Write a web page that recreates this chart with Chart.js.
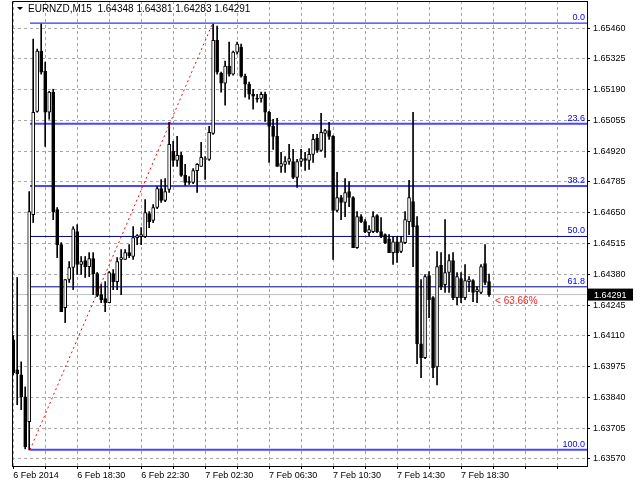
<!DOCTYPE html>
<html>
<head>
<meta charset="utf-8">
<script src="https://cdn.jsdelivr.net/npm/chart.js@4.4.1/dist/chart.umd.min.js"></script>
<style>
  html, body { margin: 0; padding: 0; background: #fff; }
  #wrap { width: 640px; height: 480px; }
</style>
</head>
<body>
<div id="wrap"><canvas id="chart" width="640" height="480"></canvas></div>
<script>
// EURNZD M15 bars, starting 6 Feb 2014 14:30
const opens = [
  1.64093,1.63961,1.63939,1.63842,1.63733,1.64642,1.65095,1.65359,1.65271,1.65091,
  1.65179,1.64664,1.64510,1.64234,1.64357,1.64410,1.64567,1.64423,1.64440,1.64414,
  1.64449,1.64383,1.64291,1.64273,1.64256,1.64383,1.64348,1.64445,1.64445,1.64475,
  1.64458,1.64541,1.64545,1.64545,1.64646,1.64616,1.64673,1.64756,1.64704,1.64752,
  1.64919,1.64880,1.64902,1.64814,1.64787,1.64783,1.64835,1.64853,1.64884,1.64884,
  1.64998,1.65407,1.65262,1.65218,1.65293,1.65258,1.65355,1.65377,1.65249,1.65214,
  1.65170,1.65152,1.65152,1.65170,1.65091,1.65029,1.64985,1.64853,1.64862,1.64875,
  1.64875,1.64805,1.64875,1.64888,1.64880,1.64906,1.64976,1.64924,1.64998,1.65011,
  1.64985,1.64660,1.64717,1.64695,1.64743,1.64717,1.64497,1.64633,1.64611,1.64563,
  1.64567,1.64638,1.64567,1.64554,1.64536,1.64475,1.64523,1.64480,1.64519,1.64611,
  1.64699,1.64594,1.64075,1.64014,1.64374,1.64278,1.63974,1.64419,1.64335,1.64388,
  1.64440,1.64278,1.64361,1.64278,1.64348,1.64352,1.64304,1.64300,1.64427,1.64348
];
const highs = [
  1.64111,1.64366,1.63996,1.63886,1.64743,1.65412,1.65368,1.65478,1.65311,1.65183,
  1.65192,1.64673,1.64519,1.64357,1.64436,1.64589,1.64598,1.64458,1.64458,1.64475,
  1.64475,1.64388,1.64335,1.64348,1.64392,1.64401,1.64453,1.64488,1.64488,1.64510,
  1.64589,1.64554,1.64585,1.64708,1.64655,1.64686,1.64765,1.64796,1.64800,1.65047,
  1.64963,1.64985,1.64915,1.64862,1.64809,1.64844,1.64866,1.64959,1.64897,1.65029,
  1.65478,1.65469,1.65267,1.65315,1.65399,1.65359,1.65399,1.65390,1.65258,1.65223,
  1.65192,1.65170,1.65179,1.65179,1.65095,1.65060,1.65064,1.64915,1.64897,1.64950,
  1.64928,1.64884,1.64928,1.64915,1.64932,1.64994,1.64994,1.65086,1.65016,1.65047,
  1.64989,1.64827,1.64726,1.64800,1.64787,1.64721,1.64655,1.64642,1.64620,1.64594,
  1.64655,1.64642,1.64629,1.64558,1.64554,1.64545,1.64545,1.64545,1.64655,1.64792,
  1.65091,1.64633,1.64357,1.64379,1.64392,1.64282,1.64480,1.64475,1.64620,1.64467,
  1.64475,1.64388,1.64388,1.64423,1.64370,1.64357,1.64326,1.64423,1.64510,1.64381
];
const lows = [
  1.63939,1.63808,1.63786,1.63614,1.63610,1.64607,1.65091,1.65258,1.64941,1.65060,
  1.64620,1.64453,1.64216,1.64168,1.64344,1.64313,1.64379,1.64379,1.64366,1.64370,
  1.64291,1.64282,1.64256,1.64216,1.64256,1.64313,1.64313,1.64291,1.64445,1.64453,
  1.64445,1.64510,1.64510,1.64541,1.64585,1.64607,1.64668,1.64695,1.64699,1.64739,
  1.64853,1.64853,1.64809,1.64770,1.64774,1.64778,1.64739,1.64853,1.64796,1.64880,
  1.64994,1.65258,1.65179,1.65122,1.65249,1.65254,1.65346,1.65245,1.65157,1.65148,
  1.65104,1.65135,1.65135,1.65051,1.64871,1.64928,1.64853,1.64827,1.64827,1.64862,
  1.64800,1.64761,1.64853,1.64836,1.64840,1.64871,1.64915,1.64919,1.64893,1.64972,
  1.64445,1.64655,1.64620,1.64633,1.64677,1.64497,1.64493,1.64607,1.64563,1.64550,
  1.64563,1.64563,1.64541,1.64514,1.64475,1.64423,1.64432,1.64475,1.64514,1.64554,
  1.64414,1.63988,1.63926,1.64010,1.64190,1.63926,1.63895,1.64313,1.64300,1.64300,
  1.64269,1.64247,1.64256,1.64269,1.64304,1.64260,1.64256,1.64295,1.64335,1.64283
];
const closes = [
  1.63948,1.63943,1.63842,1.63623,1.64655,1.65091,1.65359,1.65267,1.65091,1.65179,
  1.64655,1.64510,1.64216,1.64357,1.64410,1.64580,1.64423,1.64436,1.64414,1.64449,
  1.64383,1.64287,1.64269,1.64256,1.64388,1.64348,1.64436,1.64453,1.64475,1.64462,
  1.64541,1.64550,1.64554,1.64651,1.64611,1.64673,1.64756,1.64704,1.64743,1.64950,
  1.64880,1.64902,1.64814,1.64783,1.64783,1.64835,1.64862,1.64893,1.64888,1.65003,
  1.65407,1.65267,1.65218,1.65293,1.65258,1.65355,1.65390,1.65249,1.65214,1.65170,
  1.65161,1.65148,1.65170,1.65091,1.65029,1.64985,1.64853,1.64866,1.64875,1.64888,
  1.64805,1.64875,1.64888,1.64880,1.64906,1.64972,1.64924,1.65003,1.65011,1.64985,
  1.64660,1.64717,1.64695,1.64739,1.64717,1.64497,1.64633,1.64611,1.64567,1.64576,
  1.64633,1.64567,1.64545,1.64519,1.64475,1.64523,1.64475,1.64523,1.64620,1.64717,
  1.64589,1.64075,1.64014,1.64370,1.64269,1.63970,1.64414,1.64326,1.64388,1.64440,
  1.64278,1.64370,1.64278,1.64352,1.64357,1.64300,1.64313,1.64414,1.64344,1.64291
];

// time labels every 16 bars (grid every 8)
const timeLabels = {
  0: '6 Feb 2014', 16: '6 Feb 18:30', 32: '6 Feb 22:30', 48: '7 Feb 02:30',
  64: '7 Feb 06:30', 80: '7 Feb 10:30', 96: '7 Feb 14:30', 112: '7 Feb 18:30'
};
const priceTicks = [1.63570,1.63705,1.63840,1.63975,1.64110,1.64245,1.64380,1.64515,
                    1.64650,1.64785,1.64920,1.65055,1.65190,1.65325,1.65460];

// fibonacci retracement from bar 4 low to bar 50 high
const fibHigh = 1.65482;
const fibLow = 1.63610;
const fibStartBar = 4.2;
const fibEndBar = 49.9;
const fibNames = ['0.0', '23.6', '38.2', '50.0', '61.8', '100.0'];
const fibRatios = [0, 0.236, 0.382, 0.5, 0.618, 1];
const fibColors = ['#0000ff', '#4848ff', '#4848ff', '#00008b', '#00008b', '#4848ff'];
const fibWidths = [1, 2, 2, 1, 1, 2];

const title = 'EURNZD,M15  1.64348 1.64381 1.64283 1.64291';
const lastPrice = 1.64291;
const retraceText = '< 63.66%';

const X_MIN = -0.3, X_MAX = 143.5;
const FONT = 'Liberation Sans';

const fibLevel = r => fibHigh - (fibHigh - fibLow) * r;

const datasets = [];
// wicks
datasets.push({
  type: 'bar',
  data: lows.map((l, i) => ({ x: i, y: [l, highs[i]] })),
  backgroundColor: '#000',
  barThickness: 1,
  order: 1
});
// bodies
datasets.push({
  type: 'bar',
  data: opens.map((o, i) => ({ x: i, y: [o, closes[i]] })),
  backgroundColor: opens.map((o, i) => closes[i] >= o ? '#ffffff' : '#000000'),
  borderColor: '#000',
  borderWidth: 1,
  borderSkipped: false,
  barThickness: 3,
  order: 0
});
// current price line
datasets.push({
  type: 'line',
  data: [{ x: X_MIN, y: lastPrice }, { x: X_MAX, y: lastPrice }],
  borderColor: '#c0c0c0',
  borderWidth: 1,
  pointRadius: 0,
  order: 3
});
// fib levels
fibRatios.forEach((r, k) => {
  datasets.push({
    type: 'line',
    data: [{ x: fibStartBar, y: fibLevel(r) }, { x: X_MAX, y: fibLevel(r) }],
    borderColor: fibColors[k],
    borderWidth: fibWidths[k],
    pointRadius: 0,
    order: 2
  });
});
// fib trend line
datasets.push({
  type: 'line',
  data: [{ x: fibStartBar, y: fibLow }, { x: fibEndBar, y: fibHigh }],
  borderColor: '#ff0000',
  borderWidth: 1,
  borderDash: [2, 3],
  pointRadius: 0,
  order: -1
});

const overlay = {
  id: 'overlay',
  afterDraw(chart) {
    const { ctx, chartArea: a, scales: { x, y } } = chart;
    ctx.save();
    // frame left / top
    ctx.strokeStyle = '#000';
    ctx.lineWidth = 1;
    ctx.beginPath();
    ctx.moveTo(a.left + 0.5, a.bottom);
    ctx.lineTo(a.left + 0.5, a.top + 0.5);
    ctx.lineTo(a.right, a.top + 0.5);
    ctx.stroke();

    // fib labels
    ctx.font = '9px ' + FONT;
    ctx.textAlign = 'right';
    ctx.textBaseline = 'bottom';
    fibRatios.forEach((r, k) => {
      ctx.fillStyle = '#0000ff';
      ctx.fillText(fibNames[k], a.right - 2, y.getPixelForValue(fibLevel(r)) - 1);
    });

    // retracement percent
    ctx.fillStyle = '#ff2020';
    ctx.font = '10px ' + FONT;
    ctx.textAlign = 'left';
    ctx.textBaseline = 'middle';
    ctx.fillText(retraceText, x.getPixelForValue(120.5), y.getPixelForValue(lastPrice) + 7);

    // title
    ctx.fillStyle = '#000';
    ctx.beginPath();
    ctx.moveTo(17, 7); ctx.lineTo(23, 7); ctx.lineTo(20, 10); ctx.closePath();
    ctx.fill();
    ctx.font = '10px ' + FONT;
    ctx.textBaseline = 'middle';
    ctx.fillText(title, 28, 9);

    // price box
    const py = y.getPixelForValue(lastPrice);
    ctx.fillStyle = '#000';
    ctx.fillRect(a.right + 1, py - 6, 45, 12);
    ctx.fillStyle = '#fff';
    ctx.font = '9px ' + FONT;
    ctx.fillText(lastPrice.toFixed(5), a.right + 7, py + 0.5);
    ctx.restore();
  }
};

new Chart(document.getElementById('chart'), {
  data: { datasets: datasets },
  options: {
    responsive: false,
    animation: false,
    layout: { padding: { left: 12, top: 1, right: 0, bottom: 0 } },
    datasets: { bar: { grouped: false } },
    plugins: { legend: { display: false }, tooltip: { enabled: false } },
    scales: {
      x: {
        type: 'linear',
        offset: false,
        min: X_MIN,
        max: X_MAX,
        afterBuildTicks: s => { s.ticks = []; for (let i = 0; i <= 136; i += 8) s.ticks.push({ value: i }); },
        afterFit: s => { s.height = 14; s.paddingLeft = 0; s.paddingRight = 0; },
        ticks: {
          autoSkip: false,
          maxRotation: 0,
          align: 'start',
          padding: 1,
          color: '#000',
          font: { family: FONT, size: 9 },
          callback: v => timeLabels[v] || ''
        },
        grid: { offset: false, color: '#a8a8a8', tickLength: 3, tickColor: '#000' },
        border: { display: true, color: '#000', dash: [3, 3] }
      },
      y: {
        position: 'right',
        min: 1.63539,
        max: 1.65579,
        afterBuildTicks: s => { s.ticks = priceTicks.map(v => ({ value: v })); },
        afterFit: s => { s.width = 53; s.paddingTop = 0; s.paddingBottom = 0; },
        ticks: {
          padding: 3,
          color: '#000',
          font: { family: FONT, size: 9 },
          callback: v => v.toFixed(5)
        },
        grid: { color: '#a8a8a8', tickLength: 3, tickColor: '#000' },
        border: { display: true, color: '#000', dash: [3, 3] }
      }
    }
  },
  plugins: [overlay]
});
</script>
</body>
</html>
